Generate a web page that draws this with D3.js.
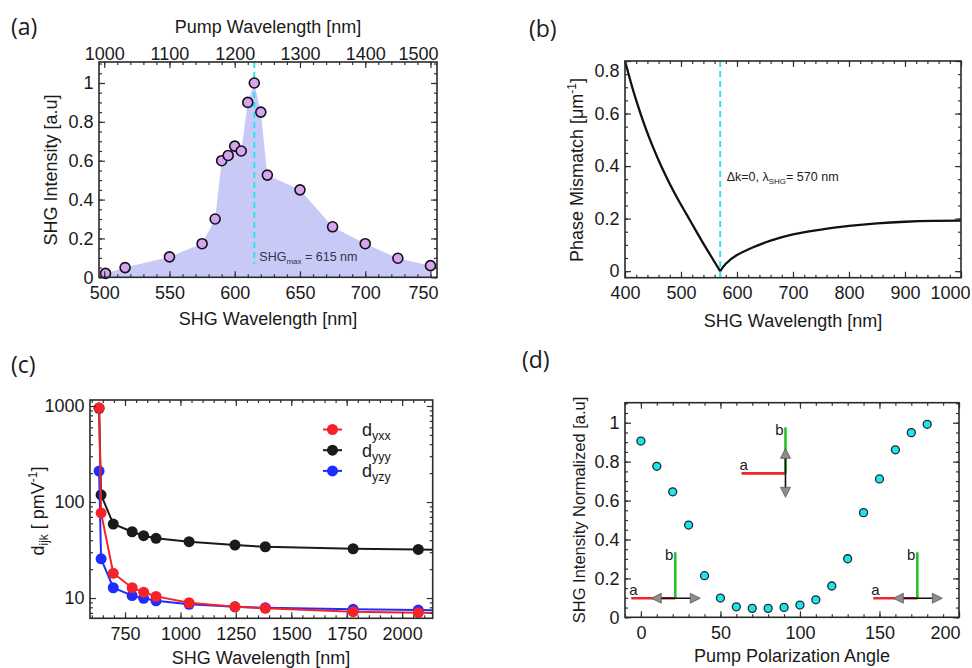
<!DOCTYPE html>
<html lang="en">
<head>
<meta charset="utf-8">
<title>SHG panels</title>
<script src="https://d3js.org/d3.v7.min.js"></script>
<style>
  body { margin: 0; background: #fff; }
  svg text { font-family: "Liberation Sans", Arial, sans-serif; fill: #1a1a1a; }
</style>
</head>
<body>
<script>

// ---------- data ----------
// (a) SHG spectrum
var shgWl  = [501, 516, 550, 575, 585, 590, 595, 600, 605, 610, 615, 620, 625, 650, 675, 700, 725, 750];
var shgInt = [0.02, 0.05, 0.105, 0.173, 0.30, 0.60, 0.627, 0.675, 0.65, 0.90, 1.0, 0.85, 0.526, 0.45, 0.26, 0.173, 0.098, 0.06];
var shgPeak = 615;

// (b) phase mismatch, two branches meeting at the zero
var pmLeftWl   = [400, 410, 420, 435, 450, 465, 480, 495, 510, 525, 540, 555, 570];
var pmLeftVal  = [0.80, 0.722, 0.65, 0.555, 0.472, 0.398, 0.332, 0.272, 0.216, 0.160, 0.105, 0.052, 0.0];
var pmRightWl  = [570, 580, 600, 630, 660, 700, 750, 800, 850, 900, 950, 1000];
var pmRightVal = [0.0, 0.028, 0.061, 0.092, 0.116, 0.14, 0.158, 0.172, 0.182, 0.188, 0.191, 0.192];
var pmZero = 570;

// (c) d_ijk vs wavelength
var dWl  = [633, 642, 697, 782, 834, 890, 1039, 1246, 1383, 1779, 2073];
var dyxx = [960, 77, 18.1, 12.8, 11.5, 10.4, 8.93, 8.11, 7.81, 7.2, 7.03];
var dyyy = [946, 119, 59, 49, 44.6, 41.9, 38.6, 35.6, 34.2, 32.6, 32.1];
var dyzy = [210, 25.6, 12.8, 10.6, 9.93, 9.37, 8.6, 8.11, 7.92, 7.63, 7.5];
var dTailWl = 2138;
var dTail = {yxx: 7.0, yyy: 31.8, yzy: 7.45};

// (d) polarization dependence
var angles = [0, 10, 20, 30, 40, 50, 60, 70, 80, 90, 100, 110, 120, 130, 140, 150, 160, 170, 180];
var polInt = [0.906, 0.776, 0.645, 0.474, 0.214, 0.099, 0.054, 0.046, 0.046, 0.051, 0.063, 0.09, 0.161, 0.301, 0.538, 0.711, 0.861, 0.949, 0.992];
// little a/b sketches: corner position in data units
var insets = [
  {ang: 21.6, val: 0.098, dir: "h"},
  {ang: 90.9, val: 0.74, dir: "v"},
  {ang: 173.8, val: 0.098, dir: "h"}
];

// tick labels
var aShgTicks  = [500, 550, 600, 650, 700, 750];
var aPumpTicks = [1000, 1100, 1200, 1300, 1400, 1500];
var unitTicks  = [0, 0.2, 0.4, 0.6, 0.8, 1];
var bXTicks = [400, 500, 600, 700, 800, 900, 1000];
var bYTicks = [0, 0.2, 0.4, 0.6, 0.8];
var cXTicks = [750, 1000, 1250, 1500, 1750, 2000];
var cYTicks = [10, 100, 1000];
var cYMinor = [7, 8, 9, 20, 30, 40, 50, 60, 70, 80, 90, 200, 300, 400, 500, 600, 700, 800, 900];
var dXTicks = [0, 50, 100, 150, 200];

var W = 972, H = 668;
var svg = d3.select("body").append("svg").attr("width", W).attr("height", H);

var blank = function() { return ""; };
var numFmt = d3.format("~g");

// frame with inward ticks on all four sides
function addFrame(sx, sy, o) {
  var g = svg.append("g");
  var left = sx.range()[0], right = sx.range()[1];
  var bottom = sy.range()[0], top = sy.range()[1];

  function ax(axis, vals, size, fmt, pad, tr) {
    var s = g.append("g").attr("transform", tr)
      .call(axis.tickValues(vals).tickSize(size).tickPadding(pad).tickFormat(fmt));
    s.select(".domain").remove();
    s.attr("font-family", null).attr("font-size", null);
    s.selectAll("line").attr("stroke", "#333").attr("stroke-width", 1.2);
    s.selectAll("text").attr("font-size", 18).attr("fill", "#1a1a1a");
    return s;
  }
  var tb = "translate(0," + bottom + ")", tt = "translate(0," + top + ")";
  var tl = "translate(" + left + ",0)", tr = "translate(" + right + ",0)";
  var topScale = o.topScale || sx;

  ax(d3.axisBottom(sx), o.xMinor, -3, blank, 0, tb);
  var bx = ax(d3.axisBottom(sx), o.xMajor, -6, o.xFmt || numFmt, 9, tb);
  ax(d3.axisTop(topScale), o.topMinor || o.xMinor, -3, blank, 0, tt);
  var tx = ax(d3.axisTop(topScale), o.topMajor || o.xMajor, -6, o.topFmt || blank, 2.5, tt);
  ax(d3.axisLeft(sy), o.yMinor, -3, blank, 0, tl);
  var ly = ax(d3.axisLeft(sy), o.yMajor, -6, o.yFmt || numFmt, 5.5, tl);
  ax(d3.axisRight(sy), o.yMinor, -3, blank, 0, tr);
  ax(d3.axisRight(sy), o.yMajor, -6, blank, 0, tr);

  // last labels pulled in so they don't run off the frame
  function pullEnd(sel, scale, v, endPx) {
    sel.selectAll(".tick").filter(function(d) { return d === v; }).select("text")
      .attr("text-anchor", "end").attr("x", endPx - scale(v));
  }
  if (o.xEnd) pullEnd(bx, sx, o.xMajor[o.xMajor.length - 1], o.xEnd);
  if (o.topEnd) pullEnd(tx, topScale, o.topMajor[o.topMajor.length - 1], o.topEnd);
  if (o.yTopShift) ly.selectAll(".tick").filter(function(d) { return d === o.yMajor[o.yMajor.length - 1]; })
    .select("text").attr("y", o.yTopShift);

  g.append("rect")
    .attr("x", left).attr("y", top)
    .attr("width", right - left).attr("height", bottom - top)
    .attr("fill", "none").attr("stroke", "#2a2a2a").attr("stroke-width", 1.6);
  return g;
}

function panelLabel(txt, x, y) {
  svg.append("text").attr("x", x).attr("y", y).text(txt)
    .style("font-family", "'Open Sans', sans-serif").attr("font-size", 23);
}
function xTitle(txt, x, y) {
  svg.append("text").attr("x", x).attr("y", y).attr("text-anchor", "middle")
    .attr("font-size", 18).text(txt);
}
function yTitle(x, y, size) {
  return svg.append("text").attr("transform", "translate(" + x + "," + y + ") rotate(-90)")
    .attr("text-anchor", "middle").attr("font-size", size || 18);
}

// ---------- (a) ----------
var xA = d3.scaleLinear().domain([496, 755]).range([99, 437]);
var pumpA = d3.scaleLinear().domain([992, 1510]).range([99, 437]);
var yA = d3.scaleLinear().domain([0, 1.108]).range([277.3, 62]);
var aPts = shgWl.map(function(w, i) { return {x: w, y: shgInt[i]}; });

svg.append("path").datum(aPts)
  .attr("fill", "#c9c9f7")
  .attr("d", d3.area().x(function(d) { return xA(d.x); }).y0(yA(0)).y1(function(d) { return yA(d.y); }));

svg.append("line")
  .attr("x1", xA(shgPeak)).attr("x2", xA(shgPeak))
  .attr("y1", yA.range()[1]).attr("y2", yA(0.07))
  .attr("stroke", "#2de3ec").attr("stroke-width", 2).attr("stroke-dasharray", "6,4");

svg.selectAll(".ptA").data(aPts).enter().append("circle")
  .attr("cx", function(d) { return xA(d.x); })
  .attr("cy", function(d) { return yA(d.y); })
  .attr("r", 5).attr("fill", "#d6a4f2").attr("stroke", "#111").attr("stroke-width", 1.6);

var annA = svg.append("text").attr("x", xA(shgPeak) + 5).attr("y", yA(0.084))
  .attr("font-size", 12.5).style("fill", "#33334d");
annA.append("tspan").text("SHG");
annA.append("tspan").attr("font-size", 8).attr("dy", 3).text("max");
annA.append("tspan").attr("dy", -3).text(" = 615 nm");

addFrame(xA, yA, {
  xMajor: aShgTicks, xMinor: d3.range(500, 751, 10), xEnd: 438,
  topScale: pumpA, topMajor: aPumpTicks, topMinor: d3.range(1000, 1501, 20), topFmt: numFmt, topEnd: 438,
  yMajor: unitTicks, yMinor: d3.range(0, 1.101, 0.05)
});
xTitle("Pump Wavelength [nm]", 268, 33);
xTitle("SHG Wavelength [nm]", 268, 325);
yTitle(57, 170).text("SHG Intensity [a.u]");
panelLabel("(a)", 11, 35);

// ---------- (b) ----------
var xB = d3.scaleLinear().domain([400, 1000]).range([625, 961]);
var yB = d3.scaleLinear().domain([-0.025, 0.8]).range([277.7, 61]);
var lineB = d3.line().curve(d3.curveNatural)
  .x(function(d) { return xB(d.x); }).y(function(d) { return yB(d.y); });

svg.append("line")
  .attr("x1", xB(pmZero)).attr("x2", xB(pmZero))
  .attr("y1", yB.range()[1]).attr("y2", yB.range()[0])
  .attr("stroke", "#2de3ec").attr("stroke-width", 2).attr("stroke-dasharray", "6,4");

[[pmLeftWl, pmLeftVal], [pmRightWl, pmRightVal]].forEach(function(br) {
  svg.append("path")
    .datum(br[0].map(function(w, i) { return {x: w, y: br[1][i]}; }))
    .attr("fill", "none").attr("stroke", "#111").attr("stroke-width", 2.3)
    .attr("d", lineB);
});

var annB = svg.append("text").attr("x", xB(pmZero) + 6.5).attr("y", yB(0.345))
  .attr("font-size", 12.5).style("fill", "#222");
annB.append("tspan").text("\u0394k=0, \u03bb");
annB.append("tspan").attr("font-size", 8).attr("dy", 3).text("SHG");
annB.append("tspan").attr("dy", -3).text("= 570 nm");

addFrame(xB, yB, {
  xMajor: bXTicks, xMinor: d3.range(400, 1001, 20), xEnd: 970,
  yMajor: bYTicks, yMinor: d3.range(0, 0.81, 0.05), yTopShift: 10
});
xTitle("SHG Wavelength [nm]", 793, 327);
var tB = yTitle(583, 170);
tB.append("tspan").text("Phase Mismatch [\u03bcm");
tB.append("tspan").attr("font-size", 12).attr("dy", -7).text("-1");
tB.append("tspan").attr("dy", 7).text("]");
panelLabel("(b)", 529, 37);

// ---------- (c) ----------
var xC = d3.scaleLinear().domain([592, 2138]).range([90, 432.7]);
var yC = d3.scaleLog().domain([6.15, 1155]).range([618.3, 400]);
var lineC = d3.line().x(function(d) { return xC(d.x); }).y(function(d) { return yC(d.y); });

var seriesC = [
  {name: "yyy", vals: dyyy, tail: dTail.yyy, color: "#1a1a1a"},
  {name: "yzy", vals: dyzy, tail: dTail.yzy, color: "#1f2cff"},
  {name: "yxx", vals: dyxx, tail: dTail.yxx, color: "#f5222a"}
];
svg.append("clipPath").attr("id", "clipC").append("rect")
  .attr("x", 90).attr("y", 400).attr("width", 342.7).attr("height", 218.3);
var gC = svg.append("g").attr("clip-path", "url(#clipC)");
seriesC.forEach(function(s) {
  var pts = dWl.map(function(w, i) { return {x: w, y: s.vals[i]}; });
  gC.append("path").datum(pts.concat([{x: dTailWl, y: s.tail}]))
    .attr("fill", "none").attr("stroke", s.color).attr("stroke-width", 2).attr("d", lineC);
  gC.selectAll(".p" + s.name).data(pts).enter().append("circle")
    .attr("cx", function(d) { return xC(d.x); })
    .attr("cy", function(d) { return yC(d.y); })
    .attr("r", 5.5).attr("fill", s.color);
});

addFrame(xC, yC, {
  xMajor: cXTicks, xMinor: d3.range(600, 2101, 50),
  yMajor: cYTicks, yMinor: cYMinor, yFmt: d3.format("d")
});

// legend (c)
var legOrder = [seriesC[2], seriesC[0], seriesC[1]];
legOrder.forEach(function(s, i) {
  var ly = 429.5 + i * 20.7;
  svg.append("line").attr("x1", 323).attr("x2", 342).attr("y1", ly).attr("y2", ly)
    .attr("stroke", s.color).attr("stroke-width", 2);
  svg.append("circle").attr("cx", 332.5).attr("cy", ly).attr("r", 5.5).attr("fill", s.color);
  var t = svg.append("text").attr("x", 362).attr("y", ly + 6.5).attr("font-size", 18);
  t.append("tspan").text("d");
  t.append("tspan").attr("font-size", 12.5).attr("dy", 4).text(s.name);
});

xTitle("SHG Wavelength [nm]", 261, 664);
var tC = yTitle(44, 511);
tC.append("tspan").text("d");
tC.append("tspan").attr("font-size", 12).attr("dy", 4).text("ijk");
tC.append("tspan").attr("dy", -4).text(" [ pmV");
tC.append("tspan").attr("font-size", 12).attr("dy", -7).text("-1");
tC.append("tspan").attr("dy", 7).text("]");
panelLabel("(c)", 11, 373);

// ---------- (d) ----------
var xD = d3.scaleLinear().domain([-10, 200]).range([625, 959]);
var yD = d3.scaleLinear().domain([0, 1.103]).range([617.3, 402.7]);

// small a/b axis sketches
function arrowHead(g, x, y, rot) {
  g.append("path").attr("d", "M0,0 L-10,-5 L-10,5 Z")
    .attr("transform", "translate(" + x + "," + y + ") rotate(" + rot + ")")
    .attr("fill", "#8d8d8d").attr("stroke", "#5a5a5a").attr("stroke-width", 0.8);
}
insets.forEach(function(s) {
  var cx = xD(s.ang), cy = yD(s.val);
  var g = svg.append("g");
  g.append("line").attr("x1", cx - 44).attr("x2", cx).attr("y1", cy).attr("y2", cy)
    .attr("stroke", "#f2262a").attr("stroke-width", 2.6);
  g.append("line").attr("x1", cx).attr("x2", cx).attr("y1", cy - 46).attr("y2", cy)
    .attr("stroke", "#25c22a").attr("stroke-width", 2.6);
  if (s.dir === "h") {
    g.append("line").attr("x1", cx - 18).attr("x2", cx + 18).attr("y1", cy).attr("y2", cy)
      .attr("stroke", "#111").attr("stroke-width", 1.6);
    arrowHead(g, cx - 24, cy, 180);
    arrowHead(g, cx + 25, cy, 0);
  } else {
    g.append("line").attr("x1", cx).attr("x2", cx).attr("y1", cy - 18).attr("y2", cy + 18)
      .attr("stroke", "#111").attr("stroke-width", 1.6);
    arrowHead(g, cx, cy - 25, -90);
    arrowHead(g, cx, cy + 24, 90);
  }
  g.append("text").attr("x", cx - 46).attr("y", cy - 3.5).attr("font-size", 15).text("a");
  g.append("text").attr("x", cx - 2).attr("y", cy - 38).attr("text-anchor", "end")
    .attr("font-size", 15).text("b");
});

svg.selectAll(".ptD").data(angles).enter().append("circle")
  .attr("cx", function(d) { return xD(d); })
  .attr("cy", function(d, i) { return yD(polInt[i]); })
  .attr("r", 4).attr("fill", "#20e4e8").attr("stroke", "#1a2a33").attr("stroke-width", 1.3);

addFrame(xD, yD, {
  xMajor: dXTicks, xMinor: d3.range(-10, 201, 10), xEnd: 960,
  yMajor: unitTicks, yMinor: d3.range(0, 1.101, 0.05)
});
xTitle("Pump Polarization Angle", 792, 662);
yTitle(585, 510, 16.5).text("SHG Intensity Normalized [a.u]");
panelLabel("(d)", 522, 368);

</script>
</body>
</html>
